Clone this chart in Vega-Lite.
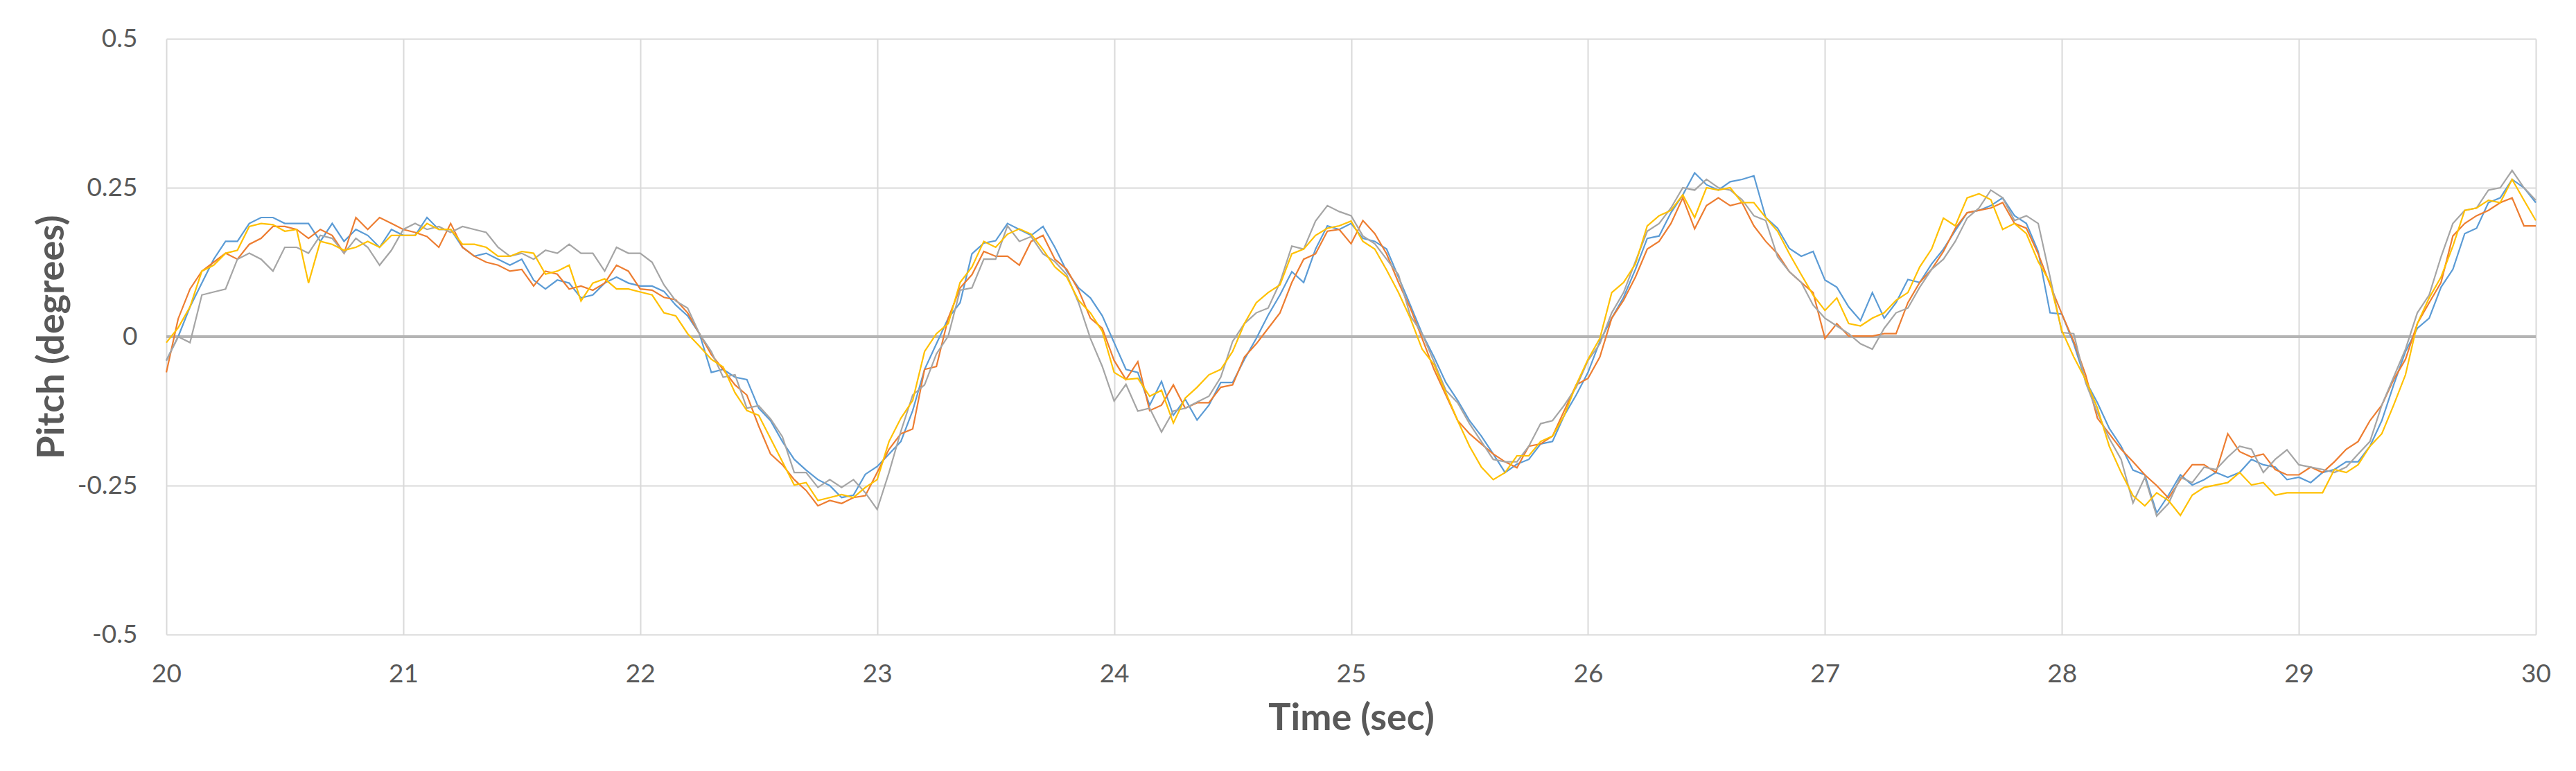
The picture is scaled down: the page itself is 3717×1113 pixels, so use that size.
{
  "$schema": "https://vega.github.io/schema/vega-lite/v6.json",
  "description": "Pitch (degrees) over time, four runs",
  "autosize": "none",
  "width": 3419,
  "height": 860,
  "padding": {"left": 240, "top": 56, "right": 58, "bottom": 197},
  "background": "white",
  "data": {
    "values": [
      {"t": 20.00, "s1": -0.04, "s2": -0.06, "s3": -0.04, "s4": -0.01},
      {"t": 20.05, "s1": 0.00, "s2": 0.03, "s3": 0.0, "s4": 0.015},
      {"t": 20.10, "s1": 0.05, "s2": 0.08, "s3": -0.01, "s4": 0.05},
      {"t": 20.15, "s1": 0.09, "s2": 0.11, "s3": 0.07, "s4": 0.11},
      {"t": 20.20, "s1": 0.13, "s2": 0.125, "s3": 0.075, "s4": 0.12},
      {"t": 20.25, "s1": 0.16, "s2": 0.14, "s3": 0.08, "s4": 0.14},
      {"t": 20.30, "s1": 0.16, "s2": 0.13, "s3": 0.13, "s4": 0.145},
      {"t": 20.35, "s1": 0.19, "s2": 0.155, "s3": 0.14, "s4": 0.185},
      {"t": 20.40, "s1": 0.20, "s2": 0.165, "s3": 0.13, "s4": 0.19},
      {"t": 20.45, "s1": 0.20, "s2": 0.185, "s3": 0.11, "s4": 0.188},
      {"t": 20.50, "s1": 0.19, "s2": 0.185, "s3": 0.15, "s4": 0.177},
      {"t": 20.55, "s1": 0.19, "s2": 0.18, "s3": 0.15, "s4": 0.18},
      {"t": 20.60, "s1": 0.19, "s2": 0.165, "s3": 0.14, "s4": 0.09},
      {"t": 20.65, "s1": 0.16, "s2": 0.18, "s3": 0.17, "s4": 0.16},
      {"t": 20.70, "s1": 0.19, "s2": 0.17, "s3": 0.165, "s4": 0.155},
      {"t": 20.75, "s1": 0.16, "s2": 0.14, "s3": 0.14, "s4": 0.145},
      {"t": 20.80, "s1": 0.18, "s2": 0.2, "s3": 0.165, "s4": 0.15},
      {"t": 20.85, "s1": 0.17, "s2": 0.18, "s3": 0.15, "s4": 0.16},
      {"t": 20.90, "s1": 0.15, "s2": 0.2, "s3": 0.12, "s4": 0.15},
      {"t": 20.95, "s1": 0.18, "s2": 0.19, "s3": 0.145, "s4": 0.17},
      {"t": 21.00, "s1": 0.17, "s2": 0.18, "s3": 0.18, "s4": 0.17},
      {"t": 21.05, "s1": 0.17, "s2": 0.175, "s3": 0.19, "s4": 0.17},
      {"t": 21.10, "s1": 0.20, "s2": 0.168, "s3": 0.18, "s4": 0.19},
      {"t": 21.15, "s1": 0.18, "s2": 0.15, "s3": 0.185, "s4": 0.18},
      {"t": 21.20, "s1": 0.18, "s2": 0.19, "s3": 0.175, "s4": 0.18},
      {"t": 21.25, "s1": 0.15, "s2": 0.15, "s3": 0.185, "s4": 0.155},
      {"t": 21.30, "s1": 0.135, "s2": 0.135, "s3": 0.18, "s4": 0.155},
      {"t": 21.35, "s1": 0.14, "s2": 0.125, "s3": 0.175, "s4": 0.15},
      {"t": 21.40, "s1": 0.13, "s2": 0.12, "s3": 0.15, "s4": 0.135},
      {"t": 21.45, "s1": 0.12, "s2": 0.11, "s3": 0.135, "s4": 0.135},
      {"t": 21.50, "s1": 0.13, "s2": 0.113, "s3": 0.14, "s4": 0.143},
      {"t": 21.55, "s1": 0.095, "s2": 0.085, "s3": 0.13, "s4": 0.14},
      {"t": 21.60, "s1": 0.08, "s2": 0.11, "s3": 0.145, "s4": 0.105},
      {"t": 21.65, "s1": 0.095, "s2": 0.105, "s3": 0.14, "s4": 0.11},
      {"t": 21.70, "s1": 0.09, "s2": 0.08, "s3": 0.155, "s4": 0.12},
      {"t": 21.75, "s1": 0.065, "s2": 0.085, "s3": 0.14, "s4": 0.06},
      {"t": 21.80, "s1": 0.07, "s2": 0.078, "s3": 0.14, "s4": 0.09},
      {"t": 21.85, "s1": 0.09, "s2": 0.09, "s3": 0.11, "s4": 0.097},
      {"t": 21.90, "s1": 0.10, "s2": 0.12, "s3": 0.15, "s4": 0.08},
      {"t": 21.95, "s1": 0.09, "s2": 0.11, "s3": 0.14, "s4": 0.08},
      {"t": 22.00, "s1": 0.085, "s2": 0.08, "s3": 0.14, "s4": 0.075},
      {"t": 22.05, "s1": 0.085, "s2": 0.078, "s3": 0.125, "s4": 0.07},
      {"t": 22.10, "s1": 0.076, "s2": 0.066, "s3": 0.087, "s4": 0.04},
      {"t": 22.15, "s1": 0.053, "s2": 0.062, "s3": 0.06, "s4": 0.035},
      {"t": 22.20, "s1": 0.035, "s2": 0.04, "s3": 0.048, "s4": 0.005},
      {"t": 22.25, "s1": 0.005, "s2": 0.005, "s3": 0.005, "s4": -0.016},
      {"t": 22.30, "s1": -0.06, "s2": -0.03, "s3": -0.025, "s4": -0.038},
      {"t": 22.35, "s1": -0.055, "s2": -0.055, "s3": -0.068, "s4": -0.051},
      {"t": 22.40, "s1": -0.068, "s2": -0.081, "s3": -0.064, "s4": -0.094},
      {"t": 22.45, "s1": -0.072, "s2": -0.098, "s3": -0.12, "s4": -0.124},
      {"t": 22.50, "s1": -0.12, "s2": -0.15, "s3": -0.116, "s4": -0.132},
      {"t": 22.55, "s1": -0.141, "s2": -0.197, "s3": -0.138, "s4": -0.171},
      {"t": 22.60, "s1": -0.176, "s2": -0.215, "s3": -0.168, "s4": -0.21},
      {"t": 22.65, "s1": -0.206, "s2": -0.24, "s3": -0.228, "s4": -0.249},
      {"t": 22.70, "s1": -0.224, "s2": -0.258, "s3": -0.228, "s4": -0.245},
      {"t": 22.75, "s1": -0.24, "s2": -0.284, "s3": -0.253, "s4": -0.275},
      {"t": 22.80, "s1": -0.25, "s2": -0.275, "s3": -0.24, "s4": -0.27},
      {"t": 22.85, "s1": -0.27, "s2": -0.28, "s3": -0.253, "s4": -0.265},
      {"t": 22.90, "s1": -0.266, "s2": -0.27, "s3": -0.24, "s4": -0.27},
      {"t": 22.95, "s1": -0.231, "s2": -0.267, "s3": -0.262, "s4": -0.253},
      {"t": 23.00, "s1": -0.218, "s2": -0.228, "s3": -0.29, "s4": -0.24},
      {"t": 23.05, "s1": -0.197, "s2": -0.189, "s3": -0.228, "s4": -0.176},
      {"t": 23.10, "s1": -0.176, "s2": -0.163, "s3": -0.159, "s4": -0.137},
      {"t": 23.15, "s1": -0.124, "s2": -0.155, "s3": -0.098, "s4": -0.107},
      {"t": 23.20, "s1": -0.055, "s2": -0.055, "s3": -0.081, "s4": -0.025},
      {"t": 23.25, "s1": -0.012, "s2": -0.05, "s3": -0.029, "s4": 0.005},
      {"t": 23.30, "s1": 0.031, "s2": 0.031, "s3": 0.001, "s4": 0.022},
      {"t": 23.35, "s1": 0.057, "s2": 0.082, "s3": 0.078, "s4": 0.091},
      {"t": 23.40, "s1": 0.139, "s2": 0.104, "s3": 0.082, "s4": 0.117},
      {"t": 23.45, "s1": 0.157, "s2": 0.143, "s3": 0.13, "s4": 0.16},
      {"t": 23.50, "s1": 0.161, "s2": 0.135, "s3": 0.13, "s4": 0.15},
      {"t": 23.55, "s1": 0.19, "s2": 0.135, "s3": 0.186, "s4": 0.172},
      {"t": 23.60, "s1": 0.18, "s2": 0.12, "s3": 0.16, "s4": 0.181},
      {"t": 23.65, "s1": 0.17, "s2": 0.16, "s3": 0.168, "s4": 0.172},
      {"t": 23.70, "s1": 0.185, "s2": 0.17, "s3": 0.139, "s4": 0.146},
      {"t": 23.75, "s1": 0.15, "s2": 0.13, "s3": 0.126, "s4": 0.117},
      {"t": 23.80, "s1": 0.11, "s2": 0.113, "s3": 0.104, "s4": 0.1},
      {"t": 23.85, "s1": 0.082, "s2": 0.078, "s3": 0.057, "s4": 0.061},
      {"t": 23.90, "s1": 0.065, "s2": 0.031, "s3": -0.003, "s4": 0.04},
      {"t": 23.95, "s1": 0.035, "s2": 0.014, "s3": -0.05, "s4": 0.009},
      {"t": 24.00, "s1": -0.01, "s2": -0.04, "s3": -0.108, "s4": -0.06},
      {"t": 24.05, "s1": -0.055, "s2": -0.072, "s3": -0.08, "s4": -0.072},
      {"t": 24.10, "s1": -0.06, "s2": -0.042, "s3": -0.125, "s4": -0.07},
      {"t": 24.15, "s1": -0.115, "s2": -0.124, "s3": -0.12, "s4": -0.1},
      {"t": 24.20, "s1": -0.075, "s2": -0.115, "s3": -0.16, "s4": -0.09},
      {"t": 24.25, "s1": -0.132, "s2": -0.081, "s3": -0.125, "s4": -0.145},
      {"t": 24.30, "s1": -0.105, "s2": -0.12, "s3": -0.12, "s4": -0.103},
      {"t": 24.35, "s1": -0.14, "s2": -0.111, "s3": -0.11, "s4": -0.085},
      {"t": 24.40, "s1": -0.115, "s2": -0.111, "s3": -0.1, "s4": -0.064},
      {"t": 24.45, "s1": -0.077, "s2": -0.085, "s3": -0.068, "s4": -0.055},
      {"t": 24.50, "s1": -0.077, "s2": -0.081, "s3": -0.008, "s4": -0.025},
      {"t": 24.55, "s1": -0.038, "s2": -0.034, "s3": 0.022, "s4": 0.022},
      {"t": 24.60, "s1": -0.003, "s2": -0.012, "s3": 0.04, "s4": 0.057},
      {"t": 24.65, "s1": 0.036, "s2": 0.014, "s3": 0.048, "s4": 0.074},
      {"t": 24.70, "s1": 0.07, "s2": 0.04, "s3": 0.091, "s4": 0.087},
      {"t": 24.75, "s1": 0.109, "s2": 0.091, "s3": 0.152, "s4": 0.139},
      {"t": 24.80, "s1": 0.091, "s2": 0.13, "s3": 0.147, "s4": 0.147},
      {"t": 24.85, "s1": 0.147, "s2": 0.139, "s3": 0.194, "s4": 0.17},
      {"t": 24.90, "s1": 0.186, "s2": 0.177, "s3": 0.22, "s4": 0.182},
      {"t": 24.95, "s1": 0.18, "s2": 0.18, "s3": 0.21, "s4": 0.186},
      {"t": 25.00, "s1": 0.19, "s2": 0.156, "s3": 0.203, "s4": 0.194},
      {"t": 25.05, "s1": 0.165, "s2": 0.195, "s3": 0.169, "s4": 0.16},
      {"t": 25.10, "s1": 0.16, "s2": 0.173, "s3": 0.156, "s4": 0.147},
      {"t": 25.15, "s1": 0.147, "s2": 0.139, "s3": 0.13, "s4": 0.112},
      {"t": 25.20, "s1": 0.1, "s2": 0.091, "s3": 0.104, "s4": 0.074},
      {"t": 25.25, "s1": 0.053, "s2": 0.048, "s3": 0.035, "s4": 0.031},
      {"t": 25.30, "s1": 0.005, "s2": -0.003, "s3": 0.005, "s4": -0.021},
      {"t": 25.35, "s1": -0.034, "s2": -0.055, "s3": -0.042, "s4": -0.047},
      {"t": 25.40, "s1": -0.077, "s2": -0.098, "s3": -0.09, "s4": -0.094},
      {"t": 25.45, "s1": -0.107, "s2": -0.141, "s3": -0.111, "s4": -0.141},
      {"t": 25.50, "s1": -0.141, "s2": -0.163, "s3": -0.146, "s4": -0.184},
      {"t": 25.55, "s1": -0.167, "s2": -0.18, "s3": -0.176, "s4": -0.219},
      {"t": 25.60, "s1": -0.197, "s2": -0.197, "s3": -0.206, "s4": -0.24},
      {"t": 25.65, "s1": -0.228, "s2": -0.21, "s3": -0.21, "s4": -0.228},
      {"t": 25.70, "s1": -0.214, "s2": -0.22, "s3": -0.21, "s4": -0.2},
      {"t": 25.75, "s1": -0.206, "s2": -0.184, "s3": -0.184, "s4": -0.2},
      {"t": 25.80, "s1": -0.18, "s2": -0.18, "s3": -0.146, "s4": -0.176},
      {"t": 25.85, "s1": -0.176, "s2": -0.167, "s3": -0.141, "s4": -0.167},
      {"t": 25.90, "s1": -0.132, "s2": -0.124, "s3": -0.115, "s4": -0.132},
      {"t": 25.95, "s1": -0.098, "s2": -0.081, "s3": -0.085, "s4": -0.081},
      {"t": 26.00, "s1": -0.06, "s2": -0.07, "s3": -0.04, "s4": -0.038},
      {"t": 26.05, "s1": -0.008, "s2": -0.034, "s3": -0.012, "s4": -0.003},
      {"t": 26.10, "s1": 0.031, "s2": 0.031, "s3": 0.04, "s4": 0.074},
      {"t": 26.15, "s1": 0.066, "s2": 0.061, "s3": 0.074, "s4": 0.091},
      {"t": 26.20, "s1": 0.113, "s2": 0.1, "s3": 0.126, "s4": 0.122},
      {"t": 26.25, "s1": 0.165, "s2": 0.147, "s3": 0.177, "s4": 0.186},
      {"t": 26.30, "s1": 0.169, "s2": 0.16, "s3": 0.19, "s4": 0.203},
      {"t": 26.35, "s1": 0.208, "s2": 0.19, "s3": 0.216, "s4": 0.212},
      {"t": 26.40, "s1": 0.238, "s2": 0.233, "s3": 0.25, "s4": 0.238},
      {"t": 26.45, "s1": 0.275, "s2": 0.181, "s3": 0.246, "s4": 0.2},
      {"t": 26.50, "s1": 0.255, "s2": 0.22, "s3": 0.264, "s4": 0.25},
      {"t": 26.55, "s1": 0.246, "s2": 0.233, "s3": 0.25, "s4": 0.246},
      {"t": 26.60, "s1": 0.26, "s2": 0.22, "s3": 0.246, "s4": 0.25},
      {"t": 26.65, "s1": 0.264, "s2": 0.225, "s3": 0.23, "s4": 0.225},
      {"t": 26.70, "s1": 0.27, "s2": 0.186, "s3": 0.203, "s4": 0.225},
      {"t": 26.75, "s1": 0.2, "s2": 0.16, "s3": 0.195, "s4": 0.2},
      {"t": 26.80, "s1": 0.182, "s2": 0.139, "s3": 0.134, "s4": 0.177},
      {"t": 26.85, "s1": 0.148, "s2": 0.109, "s3": 0.109, "s4": 0.139},
      {"t": 26.90, "s1": 0.135, "s2": 0.091, "s3": 0.091, "s4": 0.104},
      {"t": 26.95, "s1": 0.143, "s2": 0.074, "s3": 0.053, "s4": 0.07},
      {"t": 27.00, "s1": 0.095, "s2": -0.003, "s3": 0.031, "s4": 0.044},
      {"t": 27.05, "s1": 0.083, "s2": 0.022, "s3": 0.018, "s4": 0.065},
      {"t": 27.10, "s1": 0.05, "s2": 0.001, "s3": 0.005, "s4": 0.022},
      {"t": 27.15, "s1": 0.027, "s2": 0.001, "s3": -0.012, "s4": 0.018},
      {"t": 27.20, "s1": 0.074, "s2": 0.001, "s3": -0.021, "s4": 0.031},
      {"t": 27.25, "s1": 0.031, "s2": 0.005, "s3": 0.014, "s4": 0.04},
      {"t": 27.30, "s1": 0.057, "s2": 0.005, "s3": 0.04, "s4": 0.061},
      {"t": 27.35, "s1": 0.096, "s2": 0.057, "s3": 0.048, "s4": 0.074},
      {"t": 27.40, "s1": 0.091, "s2": 0.091, "s3": 0.083, "s4": 0.117},
      {"t": 27.45, "s1": 0.122, "s2": 0.113, "s3": 0.113, "s4": 0.147},
      {"t": 27.50, "s1": 0.147, "s2": 0.143, "s3": 0.13, "s4": 0.199},
      {"t": 27.55, "s1": 0.178, "s2": 0.182, "s3": 0.16, "s4": 0.186},
      {"t": 27.60, "s1": 0.208, "s2": 0.208, "s3": 0.199, "s4": 0.233},
      {"t": 27.65, "s1": 0.212, "s2": 0.212, "s3": 0.216, "s4": 0.24},
      {"t": 27.70, "s1": 0.22, "s2": 0.216, "s3": 0.246, "s4": 0.23},
      {"t": 27.75, "s1": 0.233, "s2": 0.225, "s3": 0.233, "s4": 0.18},
      {"t": 27.80, "s1": 0.203, "s2": 0.19, "s3": 0.195, "s4": 0.19},
      {"t": 27.85, "s1": 0.19, "s2": 0.182, "s3": 0.203, "s4": 0.173},
      {"t": 27.90, "s1": 0.143, "s2": 0.139, "s3": 0.19, "s4": 0.126},
      {"t": 27.95, "s1": 0.04, "s2": 0.087, "s3": 0.1, "s4": 0.091},
      {"t": 28.00, "s1": 0.038, "s2": 0.038, "s3": 0.007, "s4": 0.01},
      {"t": 28.05, "s1": -0.012, "s2": -0.008, "s3": 0.005, "s4": -0.034},
      {"t": 28.10, "s1": -0.074, "s2": -0.064, "s3": -0.077, "s4": -0.072},
      {"t": 28.15, "s1": -0.111, "s2": -0.137, "s3": -0.128, "s4": -0.12},
      {"t": 28.20, "s1": -0.154, "s2": -0.163, "s3": -0.171, "s4": -0.184},
      {"t": 28.25, "s1": -0.184, "s2": -0.189, "s3": -0.206, "s4": -0.228},
      {"t": 28.30, "s1": -0.224, "s2": -0.21, "s3": -0.279, "s4": -0.267},
      {"t": 28.35, "s1": -0.232, "s2": -0.232, "s3": -0.236, "s4": -0.284},
      {"t": 28.40, "s1": -0.296, "s2": -0.25, "s3": -0.301, "s4": -0.262},
      {"t": 28.45, "s1": -0.266, "s2": -0.271, "s3": -0.28, "s4": -0.275},
      {"t": 28.50, "s1": -0.232, "s2": -0.24, "s3": -0.236, "s4": -0.3},
      {"t": 28.55, "s1": -0.249, "s2": -0.215, "s3": -0.245, "s4": -0.266},
      {"t": 28.60, "s1": -0.24, "s2": -0.215, "s3": -0.219, "s4": -0.253},
      {"t": 28.65, "s1": -0.228, "s2": -0.228, "s3": -0.223, "s4": -0.249},
      {"t": 28.70, "s1": -0.236, "s2": -0.163, "s3": -0.202, "s4": -0.245},
      {"t": 28.75, "s1": -0.228, "s2": -0.193, "s3": -0.184, "s4": -0.228},
      {"t": 28.80, "s1": -0.206, "s2": -0.202, "s3": -0.189, "s4": -0.249},
      {"t": 28.85, "s1": -0.215, "s2": -0.197, "s3": -0.228, "s4": -0.245},
      {"t": 28.90, "s1": -0.219, "s2": -0.223, "s3": -0.206, "s4": -0.266},
      {"t": 28.95, "s1": -0.24, "s2": -0.232, "s3": -0.19, "s4": -0.262},
      {"t": 29.00, "s1": -0.236, "s2": -0.232, "s3": -0.215, "s4": -0.262},
      {"t": 29.05, "s1": -0.245, "s2": -0.219, "s3": -0.219, "s4": -0.262},
      {"t": 29.10, "s1": -0.228, "s2": -0.228, "s3": -0.223, "s4": -0.262},
      {"t": 29.15, "s1": -0.223, "s2": -0.21, "s3": -0.228, "s4": -0.223},
      {"t": 29.20, "s1": -0.21, "s2": -0.189, "s3": -0.219, "s4": -0.228},
      {"t": 29.25, "s1": -0.21, "s2": -0.176, "s3": -0.197, "s4": -0.215},
      {"t": 29.30, "s1": -0.184, "s2": -0.141, "s3": -0.176, "s4": -0.184},
      {"t": 29.35, "s1": -0.141, "s2": -0.115, "s3": -0.115, "s4": -0.163},
      {"t": 29.40, "s1": -0.081, "s2": -0.072, "s3": -0.068, "s4": -0.115},
      {"t": 29.45, "s1": -0.025, "s2": -0.038, "s3": -0.021, "s4": -0.064},
      {"t": 29.50, "s1": 0.014, "s2": 0.022, "s3": 0.04, "s4": 0.022},
      {"t": 29.55, "s1": 0.031, "s2": 0.057, "s3": 0.07, "s4": 0.065},
      {"t": 29.60, "s1": 0.083, "s2": 0.091, "s3": 0.134, "s4": 0.1},
      {"t": 29.65, "s1": 0.113, "s2": 0.169, "s3": 0.19, "s4": 0.152},
      {"t": 29.70, "s1": 0.173, "s2": 0.19, "s3": 0.212, "s4": 0.212},
      {"t": 29.75, "s1": 0.182, "s2": 0.203, "s3": 0.216, "s4": 0.216},
      {"t": 29.80, "s1": 0.225, "s2": 0.212, "s3": 0.246, "s4": 0.229},
      {"t": 29.85, "s1": 0.233, "s2": 0.225, "s3": 0.25, "s4": 0.225},
      {"t": 29.90, "s1": 0.264, "s2": 0.233, "s3": 0.279, "s4": 0.264},
      {"t": 29.95, "s1": 0.25, "s2": 0.186, "s3": 0.25, "s4": 0.229},
      {"t": 30.00, "s1": 0.225, "s2": 0.186, "s3": 0.229, "s4": 0.195}
    ]
  },
  "encoding": {
    "x": {
      "field": "t",
      "type": "quantitative",
      "scale": {"domain": [20, 30], "nice": false, "zero": false},
      "axis": {
        "title": "Time (sec)",
        "values": [20, 21, 22, 23, 24, 25, 26, 27, 28, 29, 30],
        "format": "d",
        "labelFlush": false,
        "labelBaseline": "alphabetic",
        "labelPadding": 68,
        "titleY": 137,
        "titleBaseline": "alphabetic"
      }
    }
  },
  "layer": [
    {
      "mark": {"type": "rule", "color": "#b4b4b4", "strokeWidth": 2.5},
      "encoding": {"y": {"datum": 0, "type": "quantitative"}, "x": null}
    },
    {
      "transform": [{"fold": ["s1", "s2", "s3", "s4"], "as": ["run", "pitch"]}],
      "mark": {"type": "line", "strokeWidth": 2.2, "interpolate": "linear"},
      "encoding": {
        "y": {
          "field": "pitch",
          "type": "quantitative",
          "scale": {"domain": [-0.5, 0.5], "nice": false},
          "axis": {
            "title": "Pitch (degrees)",
            "values": [-0.5, -0.25, 0, 0.25, 0.5],
            "labelExpr": "datum.value == 0 ? '0' : (datum.value < 0 ? '-' : '') + format(abs(datum.value), '~g')",
            "labelFlush": false,
            "labelPadding": 42,
            "titleX": -149,
            "titleBaseline": "alphabetic"
          }
        },
        "color": {
          "field": "run",
          "type": "nominal",
          "scale": {"domain": ["s1", "s2", "s3", "s4"], "range": ["#5B9BD5", "#ED7D31", "#A5A5A5", "#FFC000"]},
          "legend": null
        },
        "order": {"field": "t", "type": "quantitative"}
      }
    }
  ],
  "config": {
    "view": {"stroke": null},
    "font": "Lato",
    "axis": {
      "domain": false,
      "ticks": false,
      "tickSize": 0,
      "grid": true,
      "gridColor": "#d9d9d9",
      "gridWidth": 2,
      "labelFont": "Lato",
      "labelFontSize": 37,
      "labelColor": "#595959",
      "titleFont": "Lato",
      "titleFontSize": 54,
      "titleFontWeight": "bold",
      "titleColor": "#595959"
    }
  }
}
